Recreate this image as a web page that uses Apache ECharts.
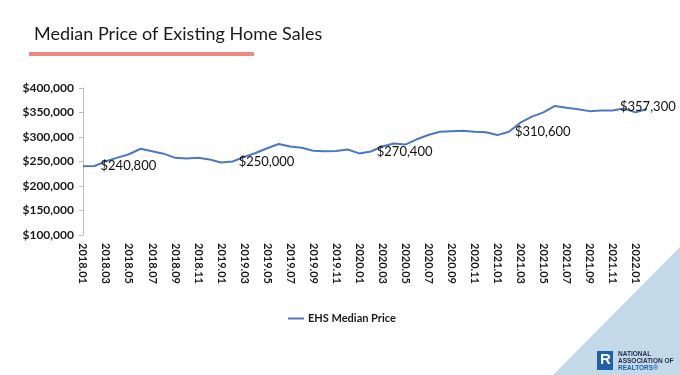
<!DOCTYPE html>
<html>
<head>
<meta charset="utf-8">
<script src="https://cdn.jsdelivr.net/npm/echarts@6/dist/echarts.min.js"></script>
<style>
html, body { margin: 0; padding: 0; background: #fff; }
#main { width: 680px; height: 375px; }
</style>
</head>
<body>
<div id="main"></div>
<script>
// months 2018.01 .. 2022.02
var months = [
	"2018.01","2018.02","2018.03","2018.04","2018.05","2018.06","2018.07","2018.08","2018.09","2018.10","2018.11","2018.12",
	"2019.01","2019.02","2019.03","2019.04","2019.05","2019.06","2019.07","2019.08","2019.09","2019.10","2019.11","2019.12",
	"2020.01","2020.02","2020.03","2020.04","2020.05","2020.06","2020.07","2020.08","2020.09","2020.10","2020.11","2020.12",
	"2021.01","2021.02","2021.03","2021.04","2021.05","2021.06","2021.07","2021.08","2021.09","2021.10","2021.11","2021.12",
	"2022.01","2022.02"
];

var medianPrice = [
	240500, 240800, 250400, 257900, 264800, 276000, 271000, 266000, 257500, 256000, 257700, 254000,
	248000, 250000, 259400, 267300, 277000, 285700, 280800, 278200, 272100, 271000, 271300, 274500,
	266500, 270400, 280600, 286800, 284600, 295300, 304100, 310600, 311800, 313000, 310800, 309800,
	303900, 310600, 329100, 341600, 350300, 363300, 359900, 356700, 352800, 353900, 353900, 358000,
	350300, 357300
];

// points that carry a value label (every February)
var labelIdx = [1, 13, 25, 37, 49];

var yTicks = [100000, 150000, 200000, 250000, 300000, 350000, 400000];

function money(v) {
	return "$" + String(v).replace(/\B(?=(\d{3})+(?!\d))/g, ",");
}

var seriesData = medianPrice.map(function(v, i) {
	if (labelIdx.indexOf(i) < 0) return v;
	var item = { value: v, label: { show: true } };
	if (i == medianPrice.length - 1) {
		item.label.offset = [-33, -2];
	}
	return item;
});

var chart = echarts.init(document.getElementById('main'));

chart.setOption({
	animation: false,
	backgroundColor: "#ffffff",
	title: {
		text: "Median Price of Existing Home Sales",
		left: 29,
		top: 20,
		textStyle: { fontFamily: "Lato", fontSize: 18, fontWeight: "normal", color: "#1a1a1a" }
	},
	graphic: [
		{ type: "rect", shape: { x: 29, y: 52, width: 225, height: 4 }, style: { fill: "#f28682" } },
		{ type: "polygon", shape: { points: [[680, 247], [680, 375], [553, 375]] }, style: { fill: "#c3d9e8" } },
		{ type: "rect", shape: { x: 597, y: 351, width: 16, height: 19 }, style: { fill: "#1f5fae" } },
		{ type: "text", style: { x: 600, y: 352, text: "R", font: "bold 15px 'Liberation Sans'", fill: "#ffffff" } },
		{ type: "text", style: { x: 618, y: 351, text: "NATIONAL\nASSOCIATION OF", font: "bold 6.5px 'Liberation Sans'", lineHeight: 7, fill: "#1e2d4a" } },
		{ type: "text", style: { x: 618, y: 365, text: "REALTORS®", font: "bold 6.5px 'Liberation Sans'", fill: "#1f5fae" } }
	],
	legend: {
		left: 283,
		top: 308,
		icon: "rect",
		itemWidth: 16,
		itemHeight: 2,
		itemGap: 10,
		textStyle: { fontFamily: "Lato", fontSize: 11, fontWeight: "bold", color: "#1a1a1a", padding: [0, 0, 0, -1] },
		data: ["EHS Median Price"]
	},
	grid: { left: 83, top: 88, right: 33, bottom: 140, containLabel: false },
	xAxis: {
		type: "category",
		data: months,
		boundaryGap: false,
		axisLine: { show: false },
		axisTick: { show: false },
		axisLabel: {
			interval: 1,
			rotate: -90,
			margin: 8,
			fontFamily: "Lato",
			fontSize: 11,
			fontWeight: "bold",
			color: "#1a1a1a"
		}
	},
	yAxis: {
		type: "value",
		min: yTicks[0],
		max: yTicks[yTicks.length - 1],
		interval: 50000,
		axisLine: { show: true, lineStyle: { color: "#bfbfbf", width: 1 } },
		axisTick: { show: true, length: 4, lineStyle: { color: "#bfbfbf" } },
		splitLine: { show: false },
		axisLabel: {
			margin: 9,
			fontFamily: "Lato",
			fontSize: 12,
			fontWeight: "bold",
			color: "#1a1a1a",
			formatter: money
		}
	},
	series: [{
		name: "EHS Median Price",
		type: "line",
		data: seriesData,
		showSymbol: true,
		symbol: "circle",
		symbolSize: 0,
		lineStyle: { color: "#4a78c2", width: 2 },
		itemStyle: { color: "#4a78c2" },
		label: {
			show: false,
			position: "right",
			distance: 6,
			fontFamily: "Lato",
			fontSize: 13,
			color: "#111",
			formatter: function(p) { return money(p.value); }
		}
	}]
});
</script>
</body>
</html>
